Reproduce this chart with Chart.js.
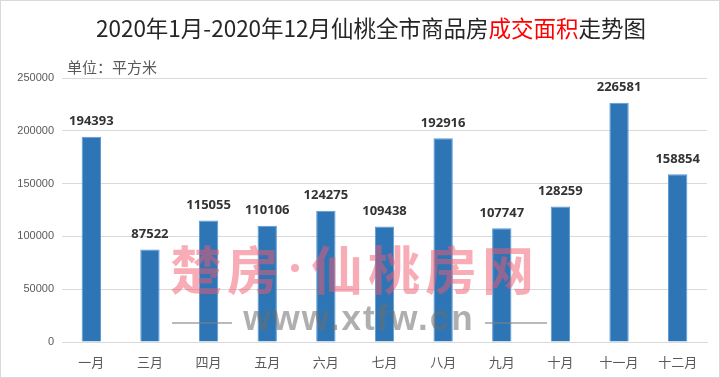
<!DOCTYPE html>
<html>
<head>
<meta charset="utf-8">
<script src="https://cdn.jsdelivr.net/npm/chart.js@4/dist/chart.umd.min.js"></script>
<style>
html,body{margin:0;padding:0;background:#fff;}
#wrap{width:720px;height:378px;position:relative;}
</style>
</head>
<body>
<div id="wrap"><canvas id="c" width="720" height="378"></canvas></div>
<script>
const categories = ['一月','三月','四月','五月','六月','七月','八月','九月','十月','十一月','十二月'];
const areaValues = [194393, 87522, 115055, 110106, 124275, 109438, 192916, 107747, 128259, 226581, 158854];
const yTicks = [0, 50000, 100000, 150000, 200000, 250000];
const titleParts = [['2020年1月-2020年12月仙桃全市商品房', '#262626'], ['成交面积', '#ff0000'], ['走势图', '#262626']];
const unitText = '单位：平方米';
const watermarkChars = ['楚', '房', '·', '仙', '桃', '房', '网'];
const watermarkUrl = 'www.xtfw.cn';

const CJK = '"Noto Sans CJK SC", "Noto Sans", sans-serif';

const decorPlugin = {
  id: 'decor',
  beforeDraw(chart) {
    const ctx = chart.ctx;
    ctx.save();
    ctx.fillStyle = '#ffffff';
    ctx.fillRect(0, 0, chart.width, chart.height);
    // title
    ctx.font = '22.5px ' + CJK;
    ctx.textBaseline = 'middle';
    let total = 0;
    titleParts.forEach(p => total += ctx.measureText(p[0]).width);
    let x = 371 - total / 2;
    titleParts.forEach(p => {
      ctx.fillStyle = p[1];
      ctx.textAlign = 'left';
      ctx.fillText(p[0], x, 28);
      x += ctx.measureText(p[0]).width;
    });
    // unit
    ctx.font = '15px ' + CJK;
    ctx.fillStyle = '#595959';
    ctx.fillText(unitText, 67, 67);
    ctx.restore();
  },
  afterDatasetsDraw(chart) {
    const ctx = chart.ctx;
    const meta = chart.getDatasetMeta(0);
    ctx.save();
    ctx.font = 'bold 13px "Open Sans", "Liberation Sans", sans-serif';
    ctx.fillStyle = '#333333';
    ctx.textAlign = 'center';
    ctx.textBaseline = 'middle';
    meta.data.forEach((bar, i) => {
      ctx.fillText(String(areaValues[i]), bar.x, bar.y - 15);
    });
    ctx.restore();
  },
  afterDraw(chart) {
    const ctx = chart.ctx;
    ctx.save();
    // watermark main, laid out char by char
    ctx.font = 'bold 52px ' + CJK;
    ctx.fillStyle = 'rgba(240, 90, 110, 0.5)';
    ctx.textAlign = 'center';
    ctx.textBaseline = 'middle';
    const slots = watermarkChars.map(c => c === '·' ? 22 : 52);
    const gap = 5;
    let wx = 170;
    watermarkChars.forEach((c, i) => {
      const cx = wx + slots[i] / 2;
      if (c === '·') {
        ctx.beginPath();
        ctx.arc(cx, 268, 4, 0, Math.PI * 2);
        ctx.fill();
      } else {
        ctx.fillText(c, cx, 270);
      }
      wx += slots[i] + gap;
    });
    // url
    ctx.font = 'bold 35px "Liberation Sans", Arial, sans-serif';
    ctx.fillStyle = 'rgba(110, 110, 110, 0.55)';
    if ('letterSpacing' in ctx) ctx.letterSpacing = '2px';
    ctx.fillText(watermarkUrl, 359, 320);
    ctx.strokeStyle = 'rgba(130, 130, 130, 0.55)';
    ctx.lineWidth = 2;
    ctx.beginPath();
    ctx.moveTo(172, 323); ctx.lineTo(232, 323);
    ctx.moveTo(485, 323); ctx.lineTo(547, 323);
    ctx.stroke();
    // outer border
    ctx.strokeStyle = '#d9d9d9';
    ctx.lineWidth = 1;
    ctx.strokeRect(0.5, 0.5, chart.width - 1, chart.height - 1);
    ctx.restore();
  }
};

new Chart(document.getElementById('c'), {
  type: 'bar',
  data: {
    labels: categories,
    datasets: [{
      data: areaValues,
      backgroundColor: '#2e75b6',
      borderColor: '#5b9bd5',
      borderWidth: 1,
      barPercentage: 0.33,
      categoryPercentage: 1.0
    }]
  },
  options: {
    responsive: false,
    animation: false,
    devicePixelRatio: 1,
    layout: { padding: { top: 78, right: 13, left: 0, bottom: 0 } },
    plugins: { legend: { display: false }, title: { display: false }, tooltip: { enabled: false } },
    scales: {
      x: {
        grid: { display: false },
        border: { display: true, color: '#d9d9d9', width: 1 },
        ticks: { color: '#595959', font: { family: CJK, size: 13 }, padding: 4, maxRotation: 0, autoSkip: false },
        afterFit(s) { s.height = 36; }
      },
      y: {
        min: 0, max: 250000,
        afterBuildTicks(s) { s.ticks = yTicks.map(v => ({ value: v })); },
        grid: { color: '#d9d9d9', drawTicks: false },
        border: { display: false },
        ticks: { color: '#595959', font: { family: '"Liberation Sans", Arial, sans-serif', size: 11 }, padding: 8, callback: v => String(v) },
        afterFit(s) { s.width = 62; }
      }
    }
  },
  plugins: [decorPlugin]
});
</script>
</body>
</html>
